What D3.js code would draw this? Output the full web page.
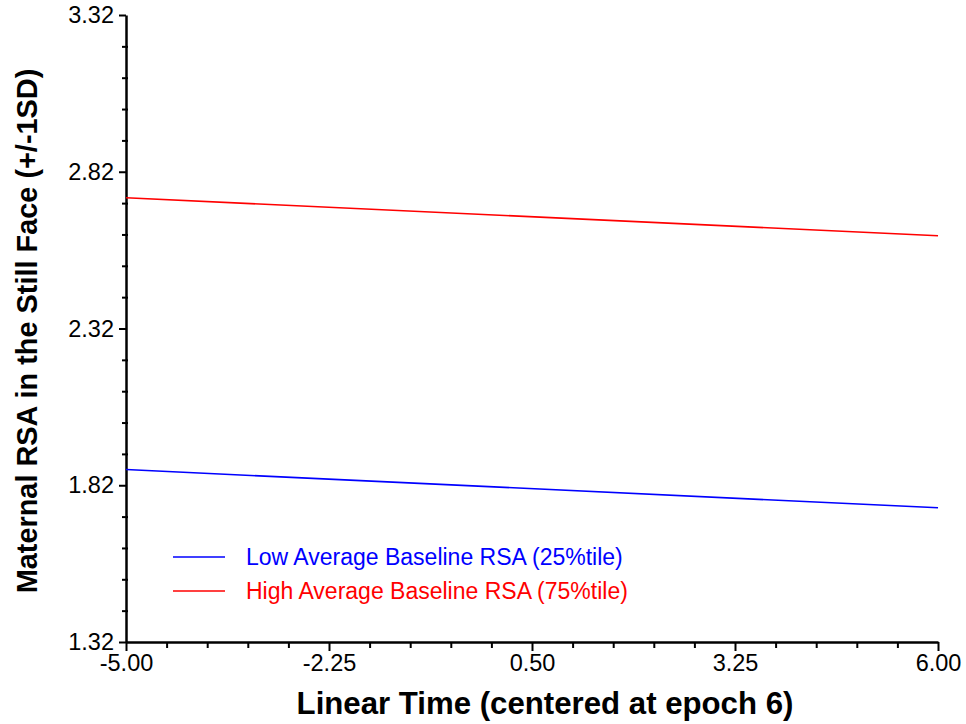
<!DOCTYPE html>
<html>
<head>
<meta charset="utf-8">
<script src="https://cdn.jsdelivr.net/npm/d3@7"></script>
<style>
  html, body { margin: 0; padding: 0; background: #fff; }
  svg { display: block; }
  text { font-family: "Liberation Sans", Arial, sans-serif; }
</style>
</head>
<body>
<svg id="chart" width="966" height="724"></svg>
<script>
// ---- data ----
const timeValues = [-5.00, 6.00];
const lowBaseline = [1.870, 1.748];   // Low Average Baseline RSA (25%tile)
const highBaseline = [2.737, 2.616];  // High Average Baseline RSA (75%tile)
const seriesNames = ["Low Average Baseline RSA (25%tile)", "High Average Baseline RSA (75%tile)"];
const xTickValues = [-5.00, -2.25, 0.50, 3.25, 6.00];
const yTickValues = [1.32, 1.82, 2.32, 2.82, 3.32];
const xTitle = "Linear Time (centered at epoch 6)";
const yTitle = "Maternal RSA in the Still Face (+/-1SD)";

// ---- layout ----
const svg = d3.select("#chart");
const x = d3.scaleLinear().domain([-5, 6]).range([126, 938]);
const y = d3.scaleLinear().domain([1.32, 3.32]).range([642, 15]);
const colors = ["#0000ff", "#ff0000"];
const fmt = v => d3.format(".2f")(v).replace("\u2212", "-");

const xMinor = d3.range(0, 21).map(i => -5 + i * 0.55).filter(v => !xTickValues.some(t => Math.abs(t - v) < 1e-6));
const yMinor = d3.range(0, 21).map(i => 1.32 + i * 0.1).filter(v => !yTickValues.some(t => Math.abs(t - v) < 1e-6));

// minor ticks x
const gxMinor = svg.append("g").attr("transform", `translate(0,${y(1.32)})`)
  .call(d3.axisBottom(x).tickValues(xMinor).tickSize(6).tickSizeOuter(0).tickFormat(""));
gxMinor.select(".domain").remove();
gxMinor.selectAll("line").attr("stroke", "#000").attr("stroke-width", 2);

// minor ticks y (crossing axis)
const gyMinor = svg.append("g").attr("transform", `translate(${x(-5)},0)`)
  .call(d3.axisLeft(y).tickValues(yMinor).tickSize(4).tickSizeOuter(0).tickFormat(""));
gyMinor.select(".domain").remove();
gyMinor.selectAll("line").attr("stroke", "#000").attr("stroke-width", 2).attr("x2", -4).attr("x1", 2);

// major axes
const gx = svg.append("g").attr("transform", `translate(0,${y(1.32)})`)
  .call(d3.axisBottom(x).tickValues(xTickValues).tickSize(9).tickSizeOuter(0).tickPadding(3)
    .tickFormat(fmt));
gx.select(".domain").attr("stroke", "#000").attr("stroke-width", 2.5);
gx.selectAll(".tick line").attr("stroke", "#000").attr("stroke-width", 2);
gx.selectAll(".tick text").attr("font-size", 23.5).attr("fill", "#000")
  .attr("font-family", "'Liberation Sans', Arial, sans-serif");

const gy = svg.append("g").attr("transform", `translate(${x(-5)},0)`)
  .call(d3.axisLeft(y).tickValues(yTickValues).tickSize(7).tickSizeOuter(0).tickPadding(5)
    .tickFormat(fmt));
gy.select(".domain").attr("stroke", "#000").attr("stroke-width", 2.5);
gy.selectAll(".tick line").attr("stroke", "#000").attr("stroke-width", 2);
gy.selectAll(".tick text").attr("font-size", 23.5).attr("fill", "#000")
  .attr("font-family", "'Liberation Sans', Arial, sans-serif");

// lines
const line = d3.line().x((d, i) => x(timeValues[i])).y(d => y(d));
[lowBaseline, highBaseline].forEach((s, k) => {
  svg.append("path").datum(s).attr("d", line)
    .attr("fill", "none").attr("stroke", colors[k]).attr("stroke-width", 1.6);
});

// legend
const legY = [557, 591];
seriesNames.forEach((name, k) => {
  svg.append("line").attr("x1", 173).attr("x2", 225).attr("y1", legY[k]).attr("y2", legY[k])
    .attr("stroke", colors[k]).attr("stroke-width", 1.6);
  svg.append("text").attr("x", 246).attr("y", legY[k]).attr("dy", "0.35em")
    .attr("font-size", 23).attr("fill", colors[k]).text(name);
});

// titles
svg.append("text").attr("x", 545).attr("y", 714).attr("text-anchor", "middle")
  .attr("font-size", 31.2).attr("font-weight", "bold").attr("fill", "#000").text(xTitle);
svg.append("text").attr("transform", "translate(37,331) rotate(-90)").attr("text-anchor", "middle")
  .attr("font-size", 28.9).attr("font-weight", "bold").attr("fill", "#000").text(yTitle);
</script>
</body>
</html>
